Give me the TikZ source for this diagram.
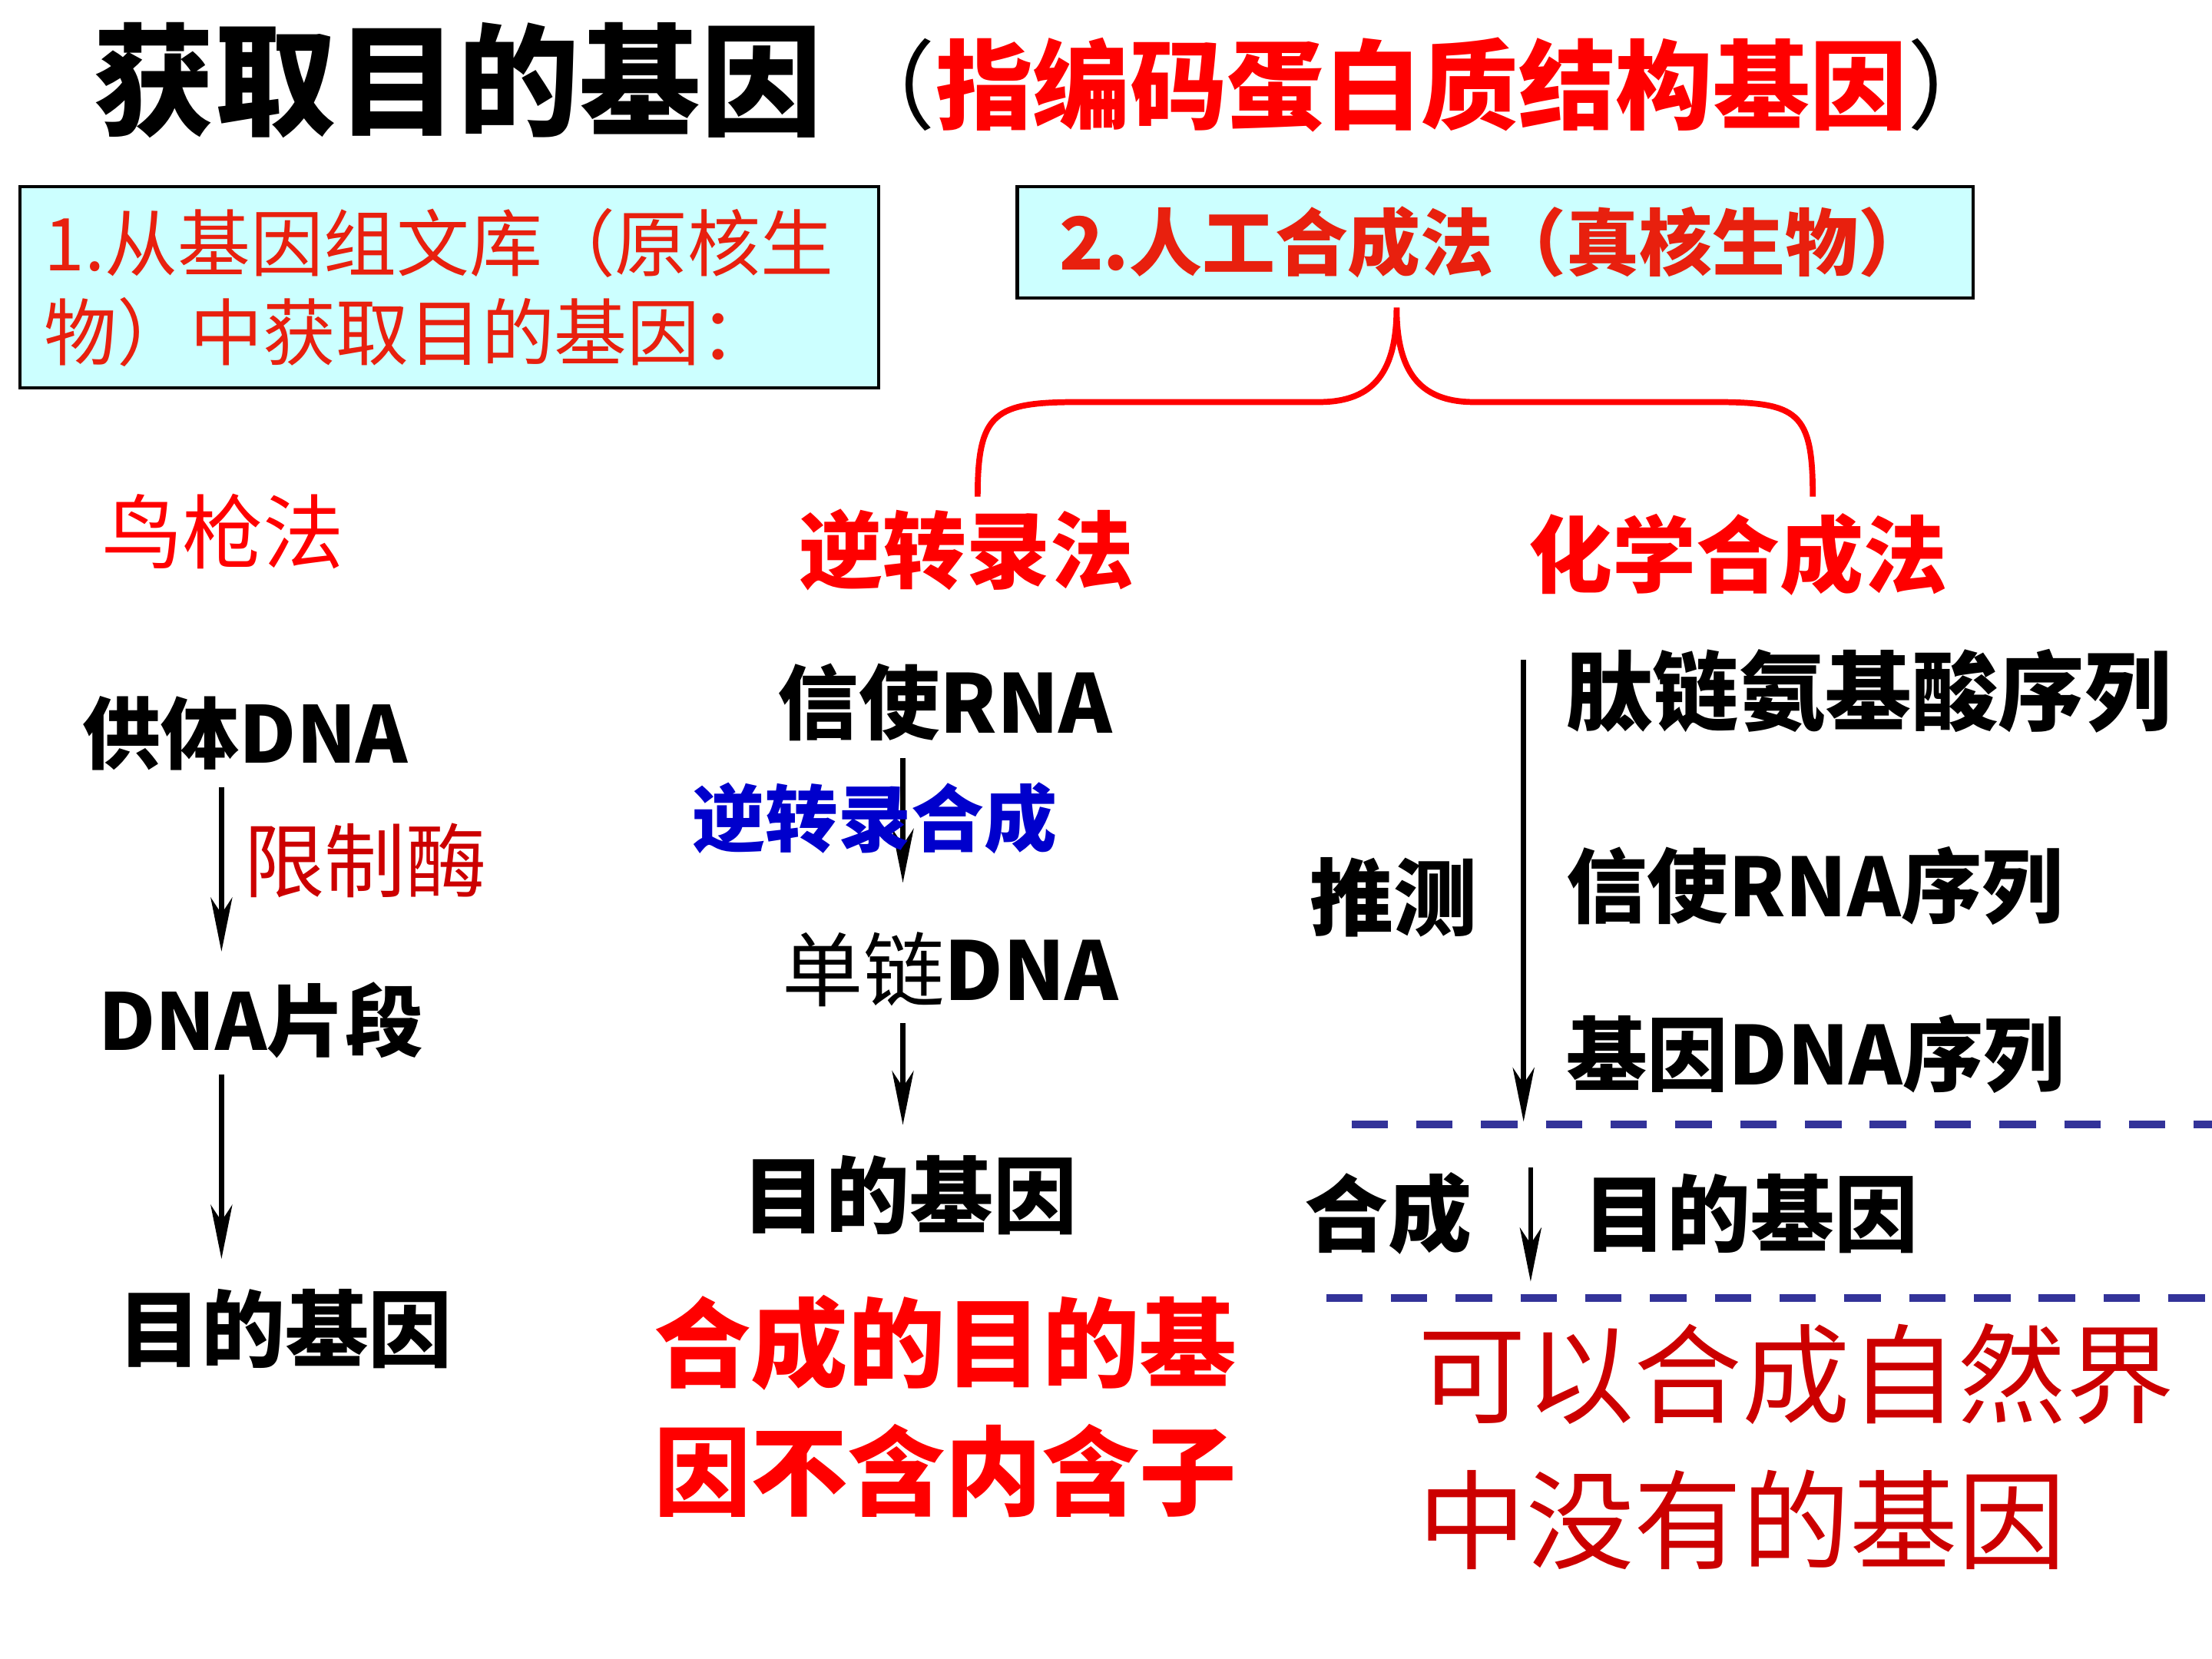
\documentclass[tikz,border=0pt]{standalone}
\usepackage{fontspec}
\setmainfont{Noto Sans CJK SC}
\usetikzlibrary{arrows.meta}

\definecolor{boxfill}{HTML}{CCFFFF}
\definecolor{dashblue}{HTML}{333399}
\definecolor{darkred}{HTML}{CC0000}
\definecolor{boxred}{HTML}{E8200E}
\definecolor{rtblue}{HTML}{0000CC}
\newcommand{\fsz}[1]{\fontsize{#1pt}{#1pt}\selectfont}

\begin{document}
\begin{tikzpicture}[x=0.18367mm, y=-0.18367mm,
  word/.style={inner sep=1pt, font=\bfseries\fsz{30}},
  redhead/.style={inner sep=1pt, text=red, font=\bfseries\fsz{31}},
  arr/.style={line width=1.9pt, shorten <=5pt, shorten >=10pt,
    -{Stealth[length=20pt, width=8pt, inset=6pt]}},
  cut/.style={dashblue, line width=3pt, dash pattern=on 13.5pt off 10.5pt},
  box/.style={draw, line width=1.2pt, fill=boxfill, inner sep=0pt}]
  \useasboundingbox (0,0) rectangle (1568,1176);

  % title
  \node (title) [word, anchor=west, font=\bfseries\fsz{45}] at (64,57) {获取目的基因};
  \node (sub) [word, anchor=west, font=\fsz{36}] at (592,60)
    {（\textcolor{red}{\bfseries 指编码蛋白质结构基因}）};

  % the two ways
  \node (lib) [box, anchor=north west, minimum width=318pt, minimum height=74.7pt,
    text width=300pt, align=left, text=boxred, font=\fontsize{27pt}{33pt}\selectfont]
    at (13,131) {1.从基因组文库（原核生\\物）中获取目的基因：};
  \node (syn) [box, anchor=north west, minimum width=354pt, minimum height=41.3pt,
    text=boxred, font=\bfseries\fsz{27}] at (720,131) {2.人工合成法（真核生物）};

  % brace
  \coordinate (tip)  at (990,218);
  \coordinate (lend) at (693,352);
  \coordinate (rend) at (1285,352);
  \draw [red, line width=2.2pt] (lend) .. controls (693,292) and (705,285) .. (765,285)
    -- (935,285) .. controls (975,285) and (990,262) .. (tip)
    .. controls (990,262) and (1005,285) .. (1045,285)
    -- (1215,285) .. controls (1275,285) and (1285,292) .. (rend);

  \node (shot)  [inner sep=1pt, text=red, font=\fsz{30}] at (158,377) {鸟枪法};
  \node (revtr) [redhead] at (685,390) {逆转录法};
  \node (chem)  [redhead] at (1232,393) {化学合成法};

  \coordinate (colA) at (157,0);
  \coordinate (colB) at (640,0);
  \coordinate (colC) at (1080,0);
  \coordinate (colD) at (1085,0);

  % shotgun
  \node (donor) [word, font=\bfseries\fsz{29}] at (174,520) {供体DNA};
  \node (frag)  [word, font=\bfseries\fsz{29}] at (185,723) {DNA片段};
  \node (gene1) [word, font=\bfseries\fsz{31}] at (202,942) {目的基因};
  \draw [arr] (donor.south -| colA) -- (frag.north -| colA);
  \draw [arr] (frag.south -| colA) -- (gene1.north -| colA);
  \node (enz) [inner sep=1pt, text=darkred, font=\fsz{30}] at (259,610) {限制酶};

  % reverse transcription
  \node (mrna)  [word] at (670,498) {信使RNA};
  \node (ssdna) [word, font=\fsz{30}] at (674,687) {单链\textbf{DNA}};
  \node (gene2) [word, font=\bfseries\fsz{31}] at (645,847) {目的基因};
  \draw [arr, shorten >=17pt] (mrna.south -| colB) -- (ssdna.north -| colB);
  \draw [arr] (ssdna.south -| colB) -- (gene2.north -| colB);
  \node (rtsyn) [inner sep=1pt, text=rtblue, font=\bfseries\fsz{27}] at (620,580) {逆转录合成};
  \node (note2) [inner sep=1pt, text=red, align=center,
    font=\bfseries\fontsize{36pt}{47.5pt}\selectfont] at (670,997)
    {合成的目的基\\因不含内含子};

  % chemical synthesis
  \coordinate (cut1)  at (958,797);
  \coordinate (cut1e) at (1568,797);
  \coordinate (cut2)  at (940,920);
  \coordinate (cut2e) at (1568,920);
  \node (pep)     [word, anchor=west, font=\bfseries\fsz{32}] at (1108,490) {肽链氨基酸序列};
  \node (mrnaseq) [word, anchor=west, font=\bfseries\fsz{30}] at (1108,628) {信使RNA序列};
  \node (dnaseq)  [word, anchor=west, font=\bfseries\fsz{30}] at (1108,747) {基因DNA序列};
  \node (infer)   [word, font=\bfseries\fsz{31}] at (988,636) {推测};
  \draw [arr, shorten >=1pt] (pep.north -| colC) -- (cut1 -| colC);
  \draw [cut] (cut1) -- (cut1e);
  \node (synth) [word, font=\bfseries\fsz{31}] at (984,860) {合成};
  \node (gene3) [word, anchor=west, font=\bfseries\fsz{31}] at (1120,860) {目的基因};
  \draw [arr, shorten <=16pt, shorten >=6pt] (cut1 -| colD) -- (cut2 -| colD);
  \draw [cut] (cut2) -- (cut2e);
  \node (note3) [inner sep=1pt, anchor=north west, text=darkred, align=left,
    font=\fontsize{40pt}{54pt}\selectfont] at (1003,936)
    {可以合成自然界\\中没有的基因};
\end{tikzpicture}
\end{document}
